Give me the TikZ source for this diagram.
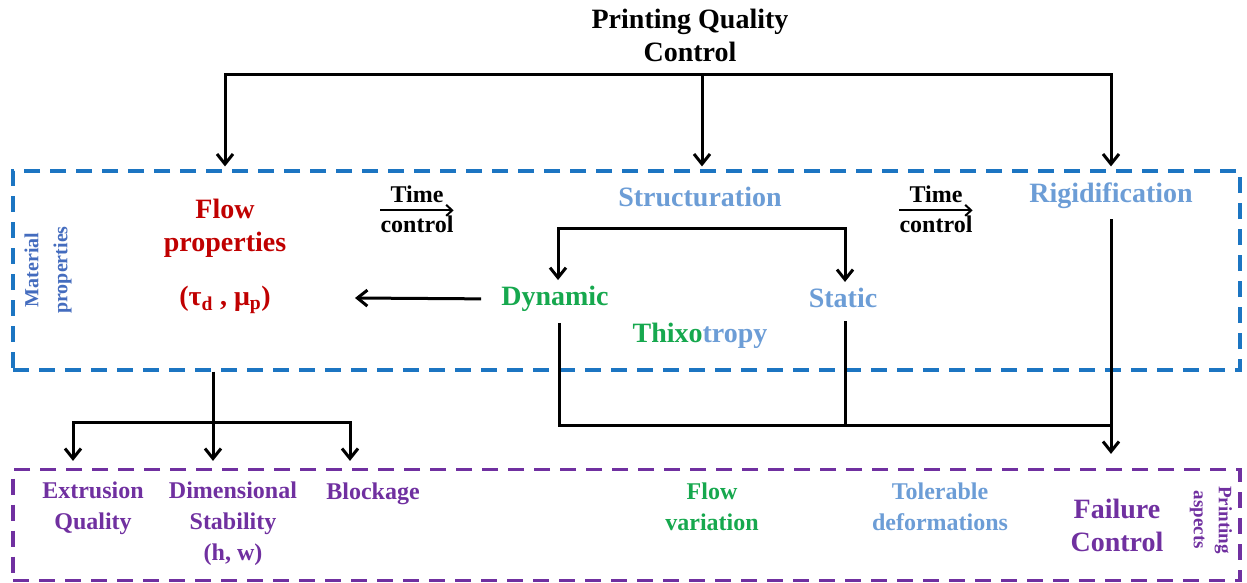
\documentclass[tikz,border=0pt]{standalone}
\usepackage{fontspec}
\setmainfont{Liberation Serif}
\usetikzlibrary{arrows.meta}
\definecolor{flowred}{RGB}{192,0,0}
\definecolor{lightblue}{RGB}{108,157,214}
\definecolor{thixgreen}{RGB}{22,168,78}
\definecolor{boxblue}{RGB}{28,117,194}
\definecolor{matblue}{RGB}{68,108,190}
\definecolor{printpurple}{RGB}{112,48,160}

\begin{document}
\begin{tikzpicture}[x=1pt, y=-1pt,
  lbl/.style={font=\bfseries\fontsize{28}{33}\selectfont, align=center, inner sep=0pt},
  small/.style={font=\bfseries\fontsize{24}{31}\selectfont, align=center, inner sep=0pt},
  side/.style={font=\bfseries\fontsize{20}{29}\selectfont, align=center, inner sep=0pt},
  line/.style={line width=3pt, black},
  arr/.style={line, -{Straight Barb[length=10pt, width=16pt]}},
  tarr/.style={line width=2pt, -{Straight Barb[length=6pt, width=11pt]}},
  dbox/.style={draw, line width=3.2pt, dash pattern=on 16pt off 10pt, minimum width=1227pt, inner sep=0pt}]
\useasboundingbox (0,0) rectangle (1247,583);

% Title
\node[lbl] (title) at (690,35) {Printing Quality\\Control};

% Material properties box
\node[dbox, draw=boxblue, minimum height=199pt] (mat) at (626.5,270.5) {};
\node[side, matblue, rotate=90] (matlbl) at (48,270) {Material\\properties};

% Printing aspects box
\node[dbox, draw=printpurple, minimum height=111pt] (asp) at (626.5,525) {};
\node[side, printpurple, rotate=-90, font=\bfseries\fontsize{19}{25}\selectfont] (asplbl) at (1211,520) {Printing\\aspects};

% Material level
\node[lbl, flowred] (flow) at (225,228) {Flow\\properties};
\node[lbl, flowred] (tau) at (225,300) {(τ\textsubscript{d} , μ\textsubscript{p})};
\node[lbl, lightblue] (struc) at (700,197) {Structuration};
\node[lbl, lightblue] (rigid) at (1111,196) {Rigidification};
\node[lbl, thixgreen] (dyn) at (555,299) {Dynamic};
\node[lbl, lightblue] (static) at (843,298) {Static};
\node[lbl] (thixo) at (700,336) {\textcolor{thixgreen}{Thixo}\textcolor{lightblue}{tropy}};

% Time control
\foreach \n/\x in {1/417, 2/936} {
  \node[small] (time\n) at (\x,194) {Time};
  \node[small] (ctrl\n) at (\x,224) {control};
  \draw[tarr] ([yshift=5pt]ctrl\n.north west) -- ([yshift=5pt]ctrl\n.north east);
}

% Printing level
\node[small, printpurple] (ext) at (93,508) {Extrusion\\Quality};
\node[small, printpurple] (dim) at (233,524) {Dimensional\\Stability\\(h, w)};
\node[small, printpurple] (block) at (373,494) {Blockage};
\node[small, thixgreen] (flowvar) at (712,507) {Flow\\variation};
\node[small, lightblue] (toler) at (940,507) {Tolerable\\deformations};
\node[lbl, printpurple] (fail) at (1117,525) {Failure\\Control};

% Connections
\coordinate (q1) at (225,75);
\coordinate (q2) at (702,75);
\coordinate (q3) at (1111,75);
\draw[arr, shorten >=3pt] (q2) -| (q1 |- mat.north);
\draw[arr, shorten >=3pt] (q2) -| (q3 |- mat.north);
\draw[arr, shorten >=3pt] (q2) -- (q2 |- mat.north);

\coordinate (s1) at (558,228);
\coordinate (s2) at (845,228);
\draw[arr, shorten >=6pt] (s2) -- (s1) -- (s1 |- dyn.north);
\draw[arr, shorten >=6pt] (s1) -- (s2) -- (s2 |- static.north);

\coordinate (fp) at (355,298);
\draw[arr, shorten <=20pt] (dyn.west) -- (fp);

\coordinate (jn) at (1111,425);
\draw[line] ([xshift=4pt, yshift=-11pt]dyn.south) |- (jn);
\draw[line] ([xshift=2pt, yshift=-13pt]static.south) -- ([xshift=2pt]static.south |- jn);
\draw[arr, shorten <=10pt, shorten >=14pt] (rigid.south) -- (rigid.south |- asp.north);

\coordinate (fb) at (213,422);
\coordinate (fl) at (73,422);
\coordinate (fr) at (350,422);
\draw[line] (fb |- mat.south) -- (fb);
\draw[arr, shorten >=7pt] (fb) -| (fl |- asp.north);
\draw[arr, shorten >=7pt] (fb) -| (fr |- asp.north);
\draw[arr, shorten >=7pt] (fb) -- (fb |- asp.north);

\end{tikzpicture}
\end{document}
